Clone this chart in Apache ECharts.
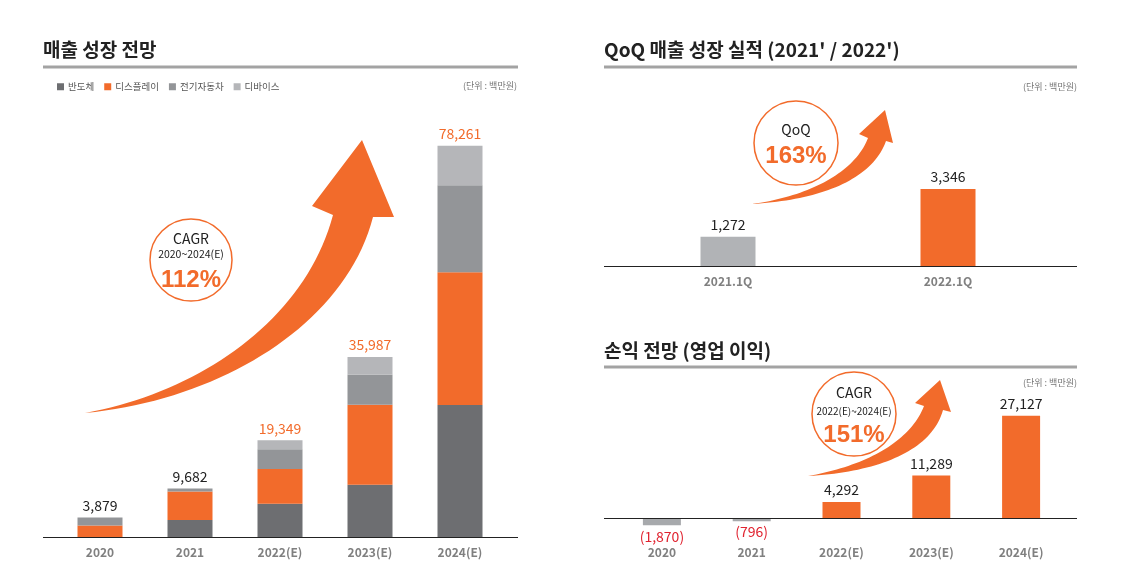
<!DOCTYPE html>
<html><head><meta charset="utf-8">
<script src="https://cdn.jsdelivr.net/npm/echarts@6/dist/echarts.min.js"></script>
<style>html,body{margin:0;padding:0;background:#fff}#c{width:1131px;height:588px}</style>
</head><body><div id="c"></div>
<script>
// ---- data ----
const years = ['2020', '2021', '2022(E)', '2023(E)', '2024(E)'];
const seriesNames = ['반도체', '디스플레이', '전기자동차', '디바이스'];
const semi = [0, 3400, 6670, 10470, 26390];
const display = [2300, 5680, 6930, 15970, 26580];
const ev = [1579, 602, 3960, 6030, 17360];
const device = [0, 0, 1789, 3517, 7931];
const totals = [3879, 9682, 19349, 35987, 78261];

const qoqCats = ['2021.1Q', '2022.1Q'];
const qoqValues = [1272, 3346];

const profitCats = ['2020', '2021', '2022(E)', '2023(E)', '2024(E)'];
const profitValues = [-1870, -796, 4292, 11289, 27127];

// ---- style ----
const FONT = '"Noto Sans CJK KR", "Noto Sans", sans-serif';
const PFONT = '"Liberation Sans", Arial, sans-serif';
const ORANGE = '#f26b2b';
const C_SEMI = '#6d6e71', C_EV = '#939598', C_DEV = '#b5b6b9';
const C_QOQ = '#b1b3b6', C_NEG = '#a7a9ac', RED = '#e0222f';
const fmt = v => v.toLocaleString('en-US');

const chart = echarts.init(document.getElementById('c'), null, {renderer: 'canvas'});

const catAxis = (gi, data) => ({
  type: 'category', gridIndex: gi, data,
  axisLine: {show: false, onZero: false}, axisTick: {show: false},
  axisLabel: {color: '#808080', fontSize: 12, fontWeight: 'bold', fontFamily: FONT, margin: 9}
});
const valAxis = (gi, min, max) => ({
  type: 'value', gridIndex: gi, min, max, show: false, splitLine: {show: false}
});

const stackSeries = (name, data, color) => ({
  name, type: 'bar', stack: 'rev', xAxisIndex: 0, yAxisIndex: 0, barWidth: 45, barGap: '-100%',
  data, itemStyle: {color}, silent: true
});

const option = {
  animation: false,
  textStyle: {fontFamily: FONT},
  grid: [
    {left: 55, right: 626, top: 137, bottom: 51},
    {left: 618, right: 73, top: 151, bottom: 322},
    {left: 617, right: 65, top: 405, bottom: 51}
  ],
  legend: {
    data: seriesNames, left: 57, top: 82, padding: 0, icon: 'rect', itemWidth: 7, itemHeight: 7, itemGap: 10,
    textStyle: {fontSize: 9.5, color: '#555', fontFamily: FONT, padding: [0, 0, 0, -1]}, selectedMode: false
  },
  xAxis: [catAxis(0, years), catAxis(1, qoqCats), catAxis(2, profitCats)],
  yAxis: [valAxis(0, 0, 80000), valAxis(1, 0, 5000), valAxis(2, -5000, 30000)],
  series: [
    stackSeries(seriesNames[0], semi, C_SEMI),
    stackSeries(seriesNames[1], display, ORANGE),
    stackSeries(seriesNames[2], ev, C_EV),
    stackSeries(seriesNames[3], device, C_DEV),
    {
      name: '합계', type: 'bar', xAxisIndex: 0, yAxisIndex: 0, barWidth: 45, barGap: '-100%', silent: true,
      data: totals.map((v, i) => ({value: v, label: {color: i < 2 ? '#222' : ORANGE}})),
      itemStyle: {color: 'rgba(0,0,0,0)'}, z: 1,
      label: {show: true, position: 'top', distance: 5, fontSize: 14, fontFamily: FONT, formatter: p => fmt(p.value)}
    },
    {
      name: 'QoQ', type: 'bar', xAxisIndex: 1, yAxisIndex: 1, barWidth: 55, silent: true,
      data: qoqValues.map((v, i) => ({value: v, itemStyle: {color: i === 0 ? C_QOQ : ORANGE}})),
      label: {show: true, position: 'top', distance: 5, fontSize: 14, color: '#222', fontFamily: FONT, formatter: p => fmt(p.value)}
    },
    {
      name: '영업이익', type: 'bar', xAxisIndex: 2, yAxisIndex: 2, barWidth: 38, silent: true,
      data: profitValues.map(v => v < 0
        ? {value: v, itemStyle: {color: C_NEG}, label: {position: 'bottom', color: RED, distance: 4}}
        : {value: v, itemStyle: {color: ORANGE}, label: {position: 'top', color: '#222', distance: 5}}),
      label: {show: true, fontSize: 14, fontFamily: FONT,
        formatter: p => p.value < 0 ? '(' + fmt(-p.value) + ')' : fmt(p.value)}
    }
  ]
};
chart.setOption(option);

// ---- decorations (titles, rules, baselines, arrows, circles) ----
const y0a = chart.convertToPixel({yAxisIndex: 0}, 0);
const y0b = chart.convertToPixel({yAxisIndex: 1}, 0);
const y0c = chart.convertToPixel({yAxisIndex: 2}, 0);

const txt = (x, y, text, size, color, weight, align, family) => ({
  type: 'text', z: 10, style: {x, y, text, fill: color, font: (weight || 'normal') + ' ' + size + 'px ' + (family || FONT),
    textAlign: align || 'left', textVerticalAlign: 'middle'}
});
const rule = (x1, x2, y) => ({type: 'rect', z: 5, shape: {x: x1, y: y - 1.5, width: x2 - x1, height: 3}, style: {fill: '#a3a3a3'}});
const base = (x1, x2, y) => ({type: 'line', z: 5, shape: {x1, y1: Math.round(y) + 0.5, x2, y2: Math.round(y) + 0.5}, style: {stroke: '#222', lineWidth: 1}});
const circle = (cx, cy, r) => ({type: 'circle', z: 8, shape: {cx, cy, r}, style: {fill: '#fff', stroke: ORANGE, lineWidth: 1.5}});

function cubic(p0, p1, p2, p3, n) {
  const pts = [];
  for (let i = 0; i <= n; i++) {
    const t = i / n, u = 1 - t;
    pts.push([
      u*u*u*p0[0] + 3*u*u*t*p1[0] + 3*u*t*t*p2[0] + t*t*t*p3[0],
      u*u*u*p0[1] + 3*u*u*t*p1[1] + 3*u*t*t*p2[1] + t*t*t*p3[1]
    ]);
  }
  return pts;
}
// lower: [tail, c1, c2, shaftRight]; head: [baseRight, tip, baseLeft]; upper: [shaftLeft, c1, c2, tail]
function arrow(lower, head, upper) {
  const pts = cubic(...lower, 40).concat(head, cubic(...upper, 40));
  return {type: 'polygon', z: 6, shape: {points: pts}, style: {fill: ORANGE}};
}

const graphics = [
  txt(43, 50, '매출 성장 전망', 19, '#222', 'bold'),
  rule(43, 518, 67),
  txt(517, 86, '(단위 : 백만원)', 9, '#777', 'normal', 'right'),
  base(43, 518, y0a),

  txt(604, 50, "QoQ 매출 성장 실적 (2021' / 2022')", 19, '#222', 'bold'),
  rule(604, 1077, 67),
  txt(1077, 87, '(단위 : 백만원)', 9, '#777', 'normal', 'right'),
  base(604, 1077, y0b),

  txt(604, 351, '손익 전망 (영업 이익)', 19, '#222', 'bold'),
  rule(604, 1077, 367),
  txt(1077, 383, '(단위 : 백만원)', 9, '#777', 'normal', 'right'),
  base(604, 1077, y0c),

  // big arrow (left)
  arrow([[85,413],[220,400],[345,325],[373,217]], [[394,217],[362,140],[312,206]], [[333,215],[305,320],[200,392],[85,413]]),
  circle(191, 260, 41),
  txt(191, 239, 'CAGR', 14, '#222', 'normal', 'center'),
  txt(191, 254, '2020~2024(E)', 10.5, '#222', 'normal', 'center'),
  txt(191, 280, '112%', 24, ORANGE, 'bold', 'center', PFONT),

  // QoQ arrow
  arrow([[752,204],[820,200],[872,180],[886,141]], [[893,143],[885,110],[859,134]], [[868,138],[855,172],[810,196],[752,204]]),
  circle(796, 143, 42),
  txt(796, 130, 'QoQ', 14, '#222', 'normal', 'center'),
  txt(796, 156, '163%', 24, ORANGE, 'bold', 'center', PFONT),

  // profit arrow
  arrow([[808,476],[880,472],[932,450],[943,410]], [[951,412],[940,380],[915,403]], [[924,406],[910,442],[865,466],[808,476]]),
  circle(854, 414, 42),
  txt(854, 393, 'CAGR', 14, '#222', 'normal', 'center'),
  txt(854, 411, '2022(E)~2024(E)', 10, '#222', 'normal', 'center'),
  txt(854, 435, '151%', 24, ORANGE, 'bold', 'center', PFONT)
];
chart.setOption({graphic: {elements: graphics}});
</script></body></html>
